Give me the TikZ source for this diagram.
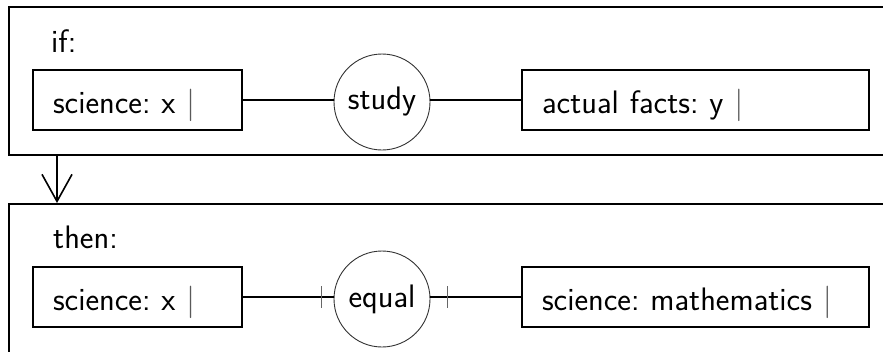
\documentclass[tikz,border=0pt]{standalone}
\usetikzlibrary{arrows.meta,calc}
\frenchspacing
\begin{document}
\begin{tikzpicture}[x=1pt,y=-1pt,
  every node/.style={font=\sffamily\fontsize{32.5}{38}\selectfont\frenchspacing},
  frame/.style={draw,line width=2pt,anchor=north west,inner sep=0pt,minimum width=892pt},
  field/.style={draw,line width=2pt,rectangle,inner xsep=20pt,inner ysep=0pt,
    text height=30pt,text depth=4pt,minimum height=60pt,align=left},
  rel/.style={draw=black!80,line width=0.9pt,circle,inner sep=0pt,minimum size=96pt},
  link/.style={line width=2pt},
  tick/.style={draw=black!60,line width=0.9pt},
  caption/.style={anchor=base west,inner sep=0pt}]
\useasboundingbox (0,0) rectangle (883,351);
\clip (0,0) rectangle (883,351);
% premise frame
\node[frame,minimum height=148pt] (ifbox) at (8,6) {};
\node[caption] (iflabel) at (51,52) {if:};
\node[field,text width=169pt,anchor=west] (sci1) at (32,100) {science: x \textcolor{black!65}{|}};
\node[rel] (study) at (382,102) {study};
\node[field,text width=307pt,anchor=west] (facts) at (521,100) {actual facts: y \textcolor{black!65}{|}};
\draw[link] (sci1.east) -- (sci1.east -| study.west);
\draw[link] (study.east |- facts.west) -- (facts.west);
% arrow from premise to conclusion
\coordinate (ax) at (57,0);
% conclusion frame
\node[frame,minimum height=200pt] (thenbox) at (8,203) {};
\draw[line width=1.6pt,-{Straight Barb[length=27pt,width=30pt,line width=1.6pt]}]
  (ifbox.south west -| ax) -- (thenbox.north west -| ax);
\node[caption] (thenlabel) at (53,248) {then:};
\node[field,text width=169pt,anchor=west] (sci2) at (32,297) {science: x \textcolor{black!65}{|}};
\node[rel] (equal) at (382,299) {equal};
\node[field,text width=307pt,anchor=west] (math) at (521,297) {science: mathematics \textcolor{black!65}{|}};
\draw[link] (sci2.east) -- (sci2.east -| equal.west);
\draw[link] (equal.east |- math.west) -- (math.west);
\draw[tick] ($(sci2.east -| equal.west)+(-12,-11)$) -- ++(0,22);
\draw[tick] ($(math.west -| equal.east)+(17,-11)$) -- ++(0,22);
\end{tikzpicture}
\end{document}
